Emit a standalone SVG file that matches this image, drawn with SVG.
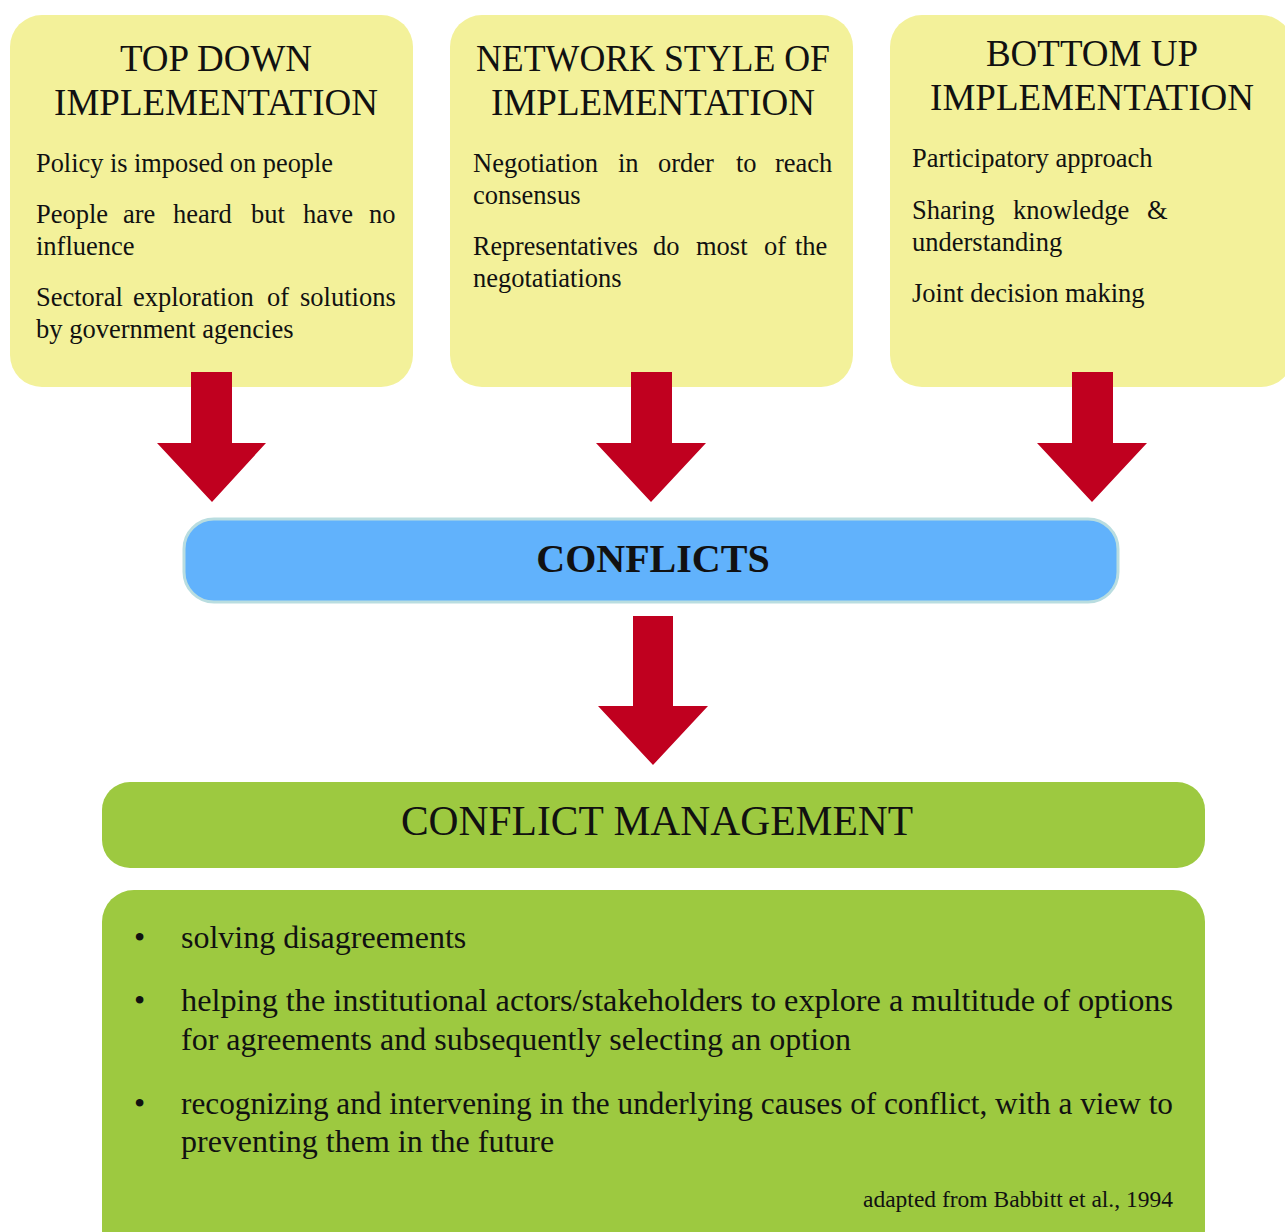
<svg xmlns="http://www.w3.org/2000/svg" width="1285" height="1232" viewBox="0 0 1285 1232">
<style>
.box{fill:#f3f19a}
.arrow{fill:#c0001f}
.t{font-family:"Liberation Serif","Times New Roman",serif;fill:#111}
.title{font-size:37px;text-anchor:middle}
.body{font-size:26.5px}
.big{font-size:32px}
</style>
<rect x="0" y="0" width="1285" height="1232" fill="#ffffff"/>
<g id="top-down">
<rect class="box" x="10" y="15" width="403" height="372" rx="32"/>
<text class="t title" x="216" y="71">TOP DOWN</text>
<text class="t title" x="216" y="115">IMPLEMENTATION</text>
<text class="t body" x="36" y="172" textLength="297" lengthAdjust="spacingAndGlyphs">Policy is imposed on people</text>
<text class="t body" y="223"><tspan x="36">People</tspan><tspan x="123">are</tspan><tspan x="173">heard</tspan><tspan x="251">but</tspan><tspan x="303">have</tspan><tspan x="369">no</tspan></text>
<text class="t body" x="36" y="255">influence</text>
<text class="t body" y="306"><tspan x="36">Sectoral</tspan><tspan x="133">exploration</tspan><tspan x="267">of</tspan><tspan x="300">solutions</tspan></text>
<text class="t body" x="36" y="338">by government agencies</text>
</g>
<g id="network">
<rect class="box" x="450" y="15" width="403" height="372" rx="32"/>
<text class="t title" x="653" y="71" textLength="354" lengthAdjust="spacingAndGlyphs">NETWORK STYLE OF</text>
<text class="t title" x="653" y="115">IMPLEMENTATION</text>
<text class="t body" y="172"><tspan x="473">Negotiation</tspan><tspan x="618">in</tspan><tspan x="658">order</tspan><tspan x="736">to</tspan><tspan x="775">reach</tspan></text>
<text class="t body" x="473" y="204">consensus</text>
<text class="t body" x="473" y="255" textLength="165" lengthAdjust="spacingAndGlyphs">Representatives</text>
<text class="t body" y="255"><tspan x="653">do</tspan><tspan x="696">most</tspan><tspan x="764">of</tspan><tspan x="795">the</tspan></text>
<text class="t body" x="473" y="287">negotatiations</text>
</g>
<g id="bottom-up">
<rect class="box" x="890" y="15" width="403" height="372" rx="32"/>
<text class="t title" x="1092" y="66">BOTTOM UP</text>
<text class="t title" x="1092" y="110">IMPLEMENTATION</text>
<text class="t body" x="912" y="167">Participatory approach</text>
<text class="t body" y="219"><tspan x="912">Sharing</tspan><tspan x="1013">knowledge</tspan><tspan x="1147">&amp;</tspan></text>
<text class="t body" x="912" y="251">understanding</text>
<text class="t body" x="912" y="302">Joint decision making</text>
</g>
<g id="connectors">
<polygon class="arrow" points="191,372 232,372 232,443 266,443 212,502 157,443 191,443"/>
<polygon class="arrow" points="631,372 672,372 672,443 706,443 651,502 596,443 631,443"/>
<polygon class="arrow" points="1072,372 1113,372 1113,443 1147,443 1092,502 1037,443 1072,443"/>
<polygon class="arrow" points="633,616 673,616 673,706 708,706 653,765 598,706 633,706"/>
</g>
<g id="conflicts">
<rect x="184" y="519" width="934" height="83" rx="30" fill="#61b2fc" stroke="#b9dde0" stroke-width="3"/>
<text class="t" x="653" y="572" font-size="40" font-weight="bold" text-anchor="middle">CONFLICTS</text>
</g>
<g id="conflict-management">
<rect x="102" y="782" width="1103" height="86" rx="28" fill="#9dc940"/>
<text class="t" x="657" y="835" font-size="41.5" text-anchor="middle">CONFLICT MANAGEMENT</text>
</g>
<g id="management-list">
<rect x="102" y="890" width="1103" height="372" rx="32" fill="#9dc940"/>
<text class="t big" x="134" y="948">•</text>
<text class="t big" x="181" y="948">solving disagreements</text>
<text class="t big" x="134" y="1011">•</text>
<text class="t big" x="181" y="1011" textLength="992" lengthAdjust="spacingAndGlyphs">helping the institutional actors/stakeholders to explore a multitude of options</text>
<text class="t big" x="181" y="1050">for agreements and subsequently selecting an option</text>
<text class="t big" x="134" y="1114">•</text>
<text class="t big" x="181" y="1114" textLength="992" lengthAdjust="spacingAndGlyphs">recognizing and intervening in the underlying causes of conflict, with a view to</text>
<text class="t big" x="181" y="1152">preventing them in the future</text>
<text class="t" x="1173" y="1207" font-size="23.5" text-anchor="end">adapted from Babbitt et al., 1994</text>
</g>
</svg>
